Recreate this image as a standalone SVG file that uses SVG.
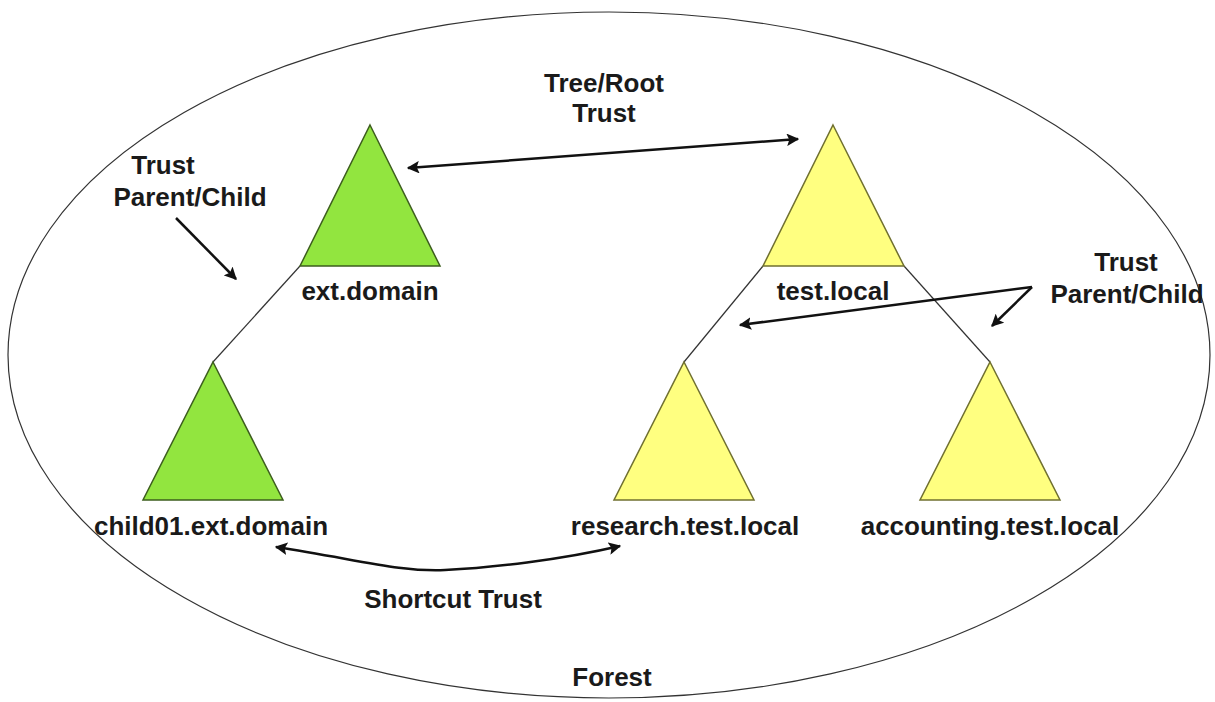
<svg xmlns="http://www.w3.org/2000/svg" width="1215" height="702" viewBox="0 0 1215 702">
<style>
text{font-family:"Liberation Sans",Arial,sans-serif;font-weight:bold;font-size:26px;fill:#1a1a1a;text-anchor:middle}
.green{fill:#92e53f;stroke:#3d5e1e;stroke-width:1.5}
.yellow{fill:#ffff80;stroke:#707030;stroke-width:1.5}
.thin{fill:none;stroke:#333;stroke-width:1.2}
.arr{fill:none;stroke:#111;stroke-width:2.5;marker-end:url(#ah)}
.arr2{fill:none;stroke:#111;stroke-width:2.5;marker-end:url(#ah);marker-start:url(#ah)}
</style>
<defs>
<marker id="ah" viewBox="0 0 10 10" refX="9" refY="5" markerWidth="5" markerHeight="5" orient="auto-start-reverse" markerUnits="strokeWidth">
<path d="M0,0 L10,5 L0,10 L2,5 Z" fill="#111"/>
</marker>
</defs>
<rect width="1215" height="702" fill="#fff"/>
<g id="forest">
<ellipse cx="609" cy="355" rx="601" ry="343" class="thin"/>
<text x="612" y="686">Forest</text>
</g>
<g id="connectors">
<line x1="300" y1="266" x2="213" y2="362" class="thin"/>
<line x1="763" y1="266" x2="684" y2="362" class="thin"/>
<line x1="904" y1="266" x2="990" y2="362" class="thin"/>
<path d="M408,168 L798,139" class="arr2"/>
<path d="M176,218 L236,279" class="arr"/>
<path d="M1032,287 L740,325" class="arr"/>
<path d="M1032,287 L992,326" class="arr"/>
<path d="M276,547 C360,560 400,572 445,570 C490,568 560,560 620,546" class="arr2"/>
</g>
<g id="label-treeroot"><text x="604" y="92">Tree/Root</text><text x="604" y="122">Trust</text></g>
<g id="label-pc-left"><text x="163" y="174">Trust</text><text x="190" y="206">Parent/Child</text></g>
<g id="label-pc-right"><text x="1126" y="271">Trust</text><text x="1127" y="303">Parent/Child</text></g>
<g id="label-shortcut"><text x="453" y="608">Shortcut Trust</text></g>
<g id="ext-domain"><polygon points="370,125 440,266 300,266" class="green"/><text x="370" y="300">ext.domain</text></g>
<g id="test-local"><polygon points="833,125 904,266 763,266" class="yellow"/><text x="833" y="300">test.local</text></g>
<g id="child01"><polygon points="213,362 283,500 143,500" class="green"/><text x="211" y="535">child01.ext.domain</text></g>
<g id="research"><polygon points="684,362 754,500 614,500" class="yellow"/><text x="685" y="535">research.test.local</text></g>
<g id="accounting"><polygon points="990,362 1060,500 920,500" class="yellow"/><text x="990" y="535">accounting.test.local</text></g>
</svg>
